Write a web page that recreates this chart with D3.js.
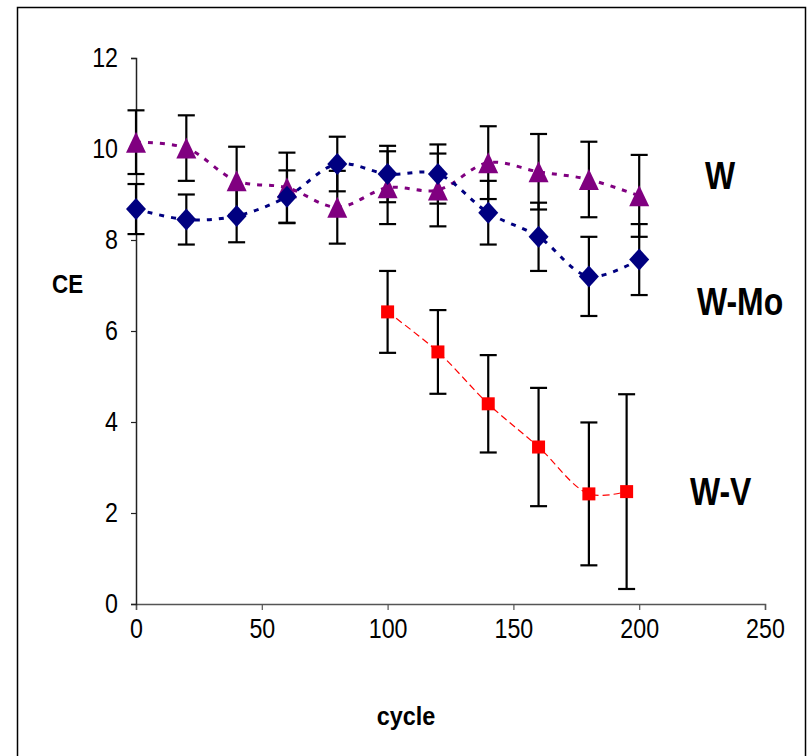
<!DOCTYPE html>
<html>
<head>
<meta charset="utf-8">
<script src="https://cdn.jsdelivr.net/npm/d3@7"></script>
<style>
  html, body { margin: 0; padding: 0; background: #fff; }
  svg { display: block; }
  .tick text { font-family: "Liberation Sans Narrow", "Arial Narrow", "Liberation Sans", Arial, sans-serif; }
</style>
</head>
<body>
<svg id="chart" width="812" height="756"></svg>
<script>
// ---- data ----
const cycles = [0, 20, 40, 60, 80, 100, 120, 140, 160, 180, 200];
const wCE    = [10.15, 10.02, 9.30, 9.15, 8.72, 9.15, 9.10, 9.70, 9.50, 9.33, 8.97];
const wErr   = [0.70, 0.72, 0.75, 0.77, 0.80, 0.80, 0.80, 0.80, 0.83, 0.83, 0.90];
const wmoCE  = [8.68, 8.45, 8.53, 8.95, 9.67, 9.45, 9.45, 8.60, 8.07, 7.20, 7.57];
const wmoErr = [0.55, 0.55, 0.58, 0.58, 0.60, 0.62, 0.65, 0.70, 0.75, 0.87, 0.78];
const wvCycles = [100, 120, 140, 160, 180, 195];
const wvCE     = [6.42, 5.54, 4.40, 3.45, 2.42, 2.47];
const wvErr    = [0.90, 0.92, 1.07, 1.30, 1.57, 2.14];
const xTicks = [0, 50, 100, 150, 200, 250];
const yTicks = [0, 2, 4, 6, 8, 10, 12];
const seriesLabels = ["W", "W-Mo", "W-V"];

const svg = d3.select("#chart");
const narrow = '"Liberation Sans Narrow", "Arial Narrow", "Liberation Sans", Arial, sans-serif';

// condense text to mimic a narrow face
function squeeze(sel, ratio) {
  sel.each(function () {
    const el = this;
    const w = el.getComputedTextLength();
    d3.select(el).attr("textLength", w * ratio).attr("lengthAdjust", "spacingAndGlyphs");
  });
}

// outer frame
svg.append("rect").attr("x", 17.5).attr("y", 7.5).attr("width", 788).attr("height", 760)
  .attr("fill", "none").attr("stroke", "#000").attr("stroke-width", 1.5);

const x = d3.scaleLinear().domain([0, 250]).range([136, 765]);
const y = d3.scaleLinear().domain([0, 12]).range([604, 58]);

// axes
const xAxis = svg.append("g").attr("transform", `translate(0,${y(0)})`)
  .call(d3.axisBottom(x).tickValues(xTicks).tickSize(6).tickPadding(9).tickFormat(d3.format("d")));
xAxis.select(".domain").attr("stroke", "#555").attr("stroke-width", 1.5);
xAxis.selectAll(".tick line").attr("stroke", "#555").attr("stroke-width", 1.2);
xAxis.selectAll(".tick text").attr("font-size", 27).attr("fill", "#000").call(squeeze, 0.86);

const yAxis = svg.append("g").attr("transform", `translate(${x(0)},0)`)
  .call(d3.axisLeft(y).tickValues(yTicks).tickSize(5).tickPadding(13).tickFormat(d3.format("d")));
yAxis.select(".domain").attr("stroke", "#222").attr("stroke-width", 1.5);
yAxis.selectAll(".tick line").attr("stroke", "#222").attr("stroke-width", 1.2);
yAxis.selectAll(".tick text").attr("font-size", 27).attr("fill", "#000").call(squeeze, 0.86);

// axis titles
svg.append("text").attr("x", 52).attr("y", 293).text("CE")
  .attr("font-family", narrow).attr("font-weight", "bold").attr("font-size", 26).call(squeeze, 0.86);
svg.append("text").attr("x", 406).attr("y", 725).attr("text-anchor", "middle").text("cycle")
  .attr("font-family", narrow).attr("font-weight", "bold").attr("font-size", 26).call(squeeze, 0.9);

// series labels
const lab = svg.append("g").attr("font-family", narrow).attr("font-weight", "bold").attr("font-size", 38);
lab.append("text").attr("x", 705).attr("y", 189).text(seriesLabels[0]);
lab.append("text").attr("x", 697).attr("y", 315).text(seriesLabels[1]);
lab.append("text").attr("x", 690).attr("y", 505).text(seriesLabels[2]);
lab.selectAll("text").call(squeeze, 0.84);

const wData   = cycles.map((c, i) => ({x: c, y: wCE[i], e: wErr[i]}));
const wmoData = cycles.map((c, i) => ({x: c, y: wmoCE[i], e: wmoErr[i]}));
const wvData  = wvCycles.map((c, i) => ({x: c, y: wvCE[i], e: wvErr[i]}));

const line = d3.line().x(d => x(d.x)).y(d => y(d.y)).curve(d3.curveCatmullRom.alpha(0.5));

svg.append("path").datum(wData).attr("d", line).attr("fill", "none")
  .attr("stroke", "#800080").attr("stroke-width", 3).attr("stroke-dasharray", "5,7");
svg.append("path").datum(wmoData).attr("d", line).attr("fill", "none")
  .attr("stroke", "#000080").attr("stroke-width", 3).attr("stroke-dasharray", "5,7");
svg.append("path").datum(wvData).attr("d", line).attr("fill", "none")
  .attr("stroke", "#ff0000").attr("stroke-width", 1.2).attr("stroke-dasharray", "7,4");

// error bars
function errBars(data) {
  const g = svg.append("g").attr("stroke", "#000").attr("stroke-width", 2.2);
  data.forEach(d => {
    const cx = x(d.x), t = y(d.y + d.e), b = y(d.y - d.e);
    g.append("line").attr("x1", cx).attr("x2", cx).attr("y1", t).attr("y2", b);
    g.append("line").attr("x1", cx - 8.5).attr("x2", cx + 8.5).attr("y1", t).attr("y2", t);
    g.append("line").attr("x1", cx - 8.5).attr("x2", cx + 8.5).attr("y1", b).attr("y2", b);
  });
}
errBars(wData);
errBars(wmoData);
errBars(wvData);

// markers
svg.append("g").selectAll("path").data(wData).join("path")
  .attr("transform", d => `translate(${x(d.x)},${y(d.y)})`)
  .attr("d", "M0,-10.5L10,10.5L-10,10.5Z").attr("fill", "#800080");
svg.append("g").selectAll("path").data(wmoData).join("path")
  .attr("transform", d => `translate(${x(d.x)},${y(d.y)})`)
  .attr("d", "M0,-11L10,0L0,11L-10,0Z").attr("fill", "#000080");
svg.append("g").selectAll("rect").data(wvData).join("rect")
  .attr("x", d => x(d.x) - 6.5).attr("y", d => y(d.y) - 6.5)
  .attr("width", 13).attr("height", 13).attr("fill", "#ff0000");
</script>
</body>
</html>
